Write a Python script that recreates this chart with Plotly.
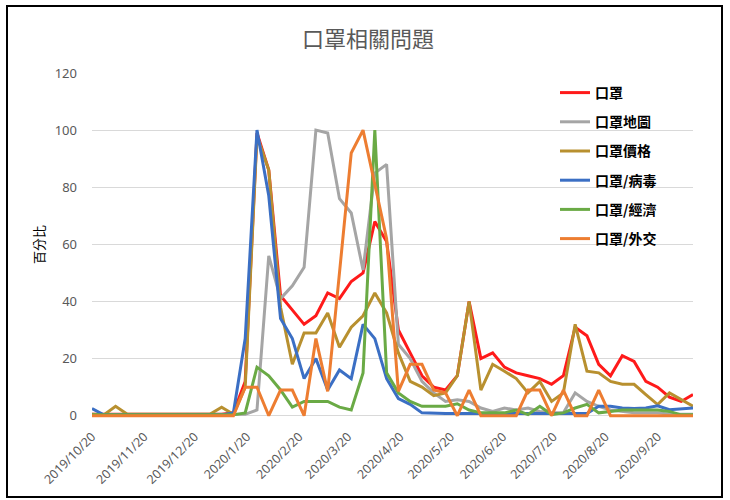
import plotly.graph_objects as go

dates = [
    "2019-10-20", "2019-10-27", "2019-11-03", "2019-11-10", "2019-11-17", "2019-11-24",
    "2019-12-01", "2019-12-08", "2019-12-15", "2019-12-22", "2019-12-29",
    "2020-01-05", "2020-01-12", "2020-01-19", "2020-01-26",
    "2020-02-02", "2020-02-09", "2020-02-16", "2020-02-23",
    "2020-03-01", "2020-03-08", "2020-03-15", "2020-03-22", "2020-03-29",
    "2020-04-05", "2020-04-12", "2020-04-19", "2020-04-26",
    "2020-05-03", "2020-05-10", "2020-05-17", "2020-05-24", "2020-05-31",
    "2020-06-07", "2020-06-14", "2020-06-21", "2020-06-28",
    "2020-07-05", "2020-07-12", "2020-07-19", "2020-07-26",
    "2020-08-02", "2020-08-09", "2020-08-16", "2020-08-23", "2020-08-30",
    "2020-09-06", "2020-09-13", "2020-09-20", "2020-09-27",
    "2020-10-04", "2020-10-11",
]

mask = [0.5, 0.5, 0.5, 0.5, 0.5, 0.5, 0.5, 0.5, 0.5, 0.5, 0.5, 0.5, 1, 12, 99,
        86, 42, 37, 32, 35, 43, 41, 47, 50, 68, 61, 30, 22, 14, 10, 9, 14, 40,
        20, 22, 17, 15, 14, 13, 11, 14, 31, 28, 18, 14, 21, 19, 12, 10, 6.5, 5, 7.4]

mask_map = [0.3, 0.3, 0.3, 0.3, 0.3, 0.3, 0.3, 0.3, 0.3, 0.3, 0.3, 0.3, 0.3, 0.5, 2,
            56, 41, 45.5, 52, 100, 99, 76, 71, 51, 85, 88, 25, 20, 12, 8, 5, 5.6, 5,
            2.7, 1.5, 2.7, 2, 2.7, 1.5, 1, 1, 8, 5, 3.3, 2, 1.5, 1, 1, 1, 0.5, 0.5, 0.5]

mask_price = [0.5, 0.3, 3.3, 0.5, 0.5, 0.5, 0.5, 0.5, 0.5, 0.5, 0.5, 3, 0.5, 10, 98,
              86, 38, 18, 29, 29, 36, 24, 31, 35, 43, 36, 22, 12, 10, 7, 8, 14, 40,
              9, 18, 15.6, 13, 8, 12, 5, 8, 32, 15.6, 15, 12, 11, 11, 7.4, 3.9, 8, 5.6, 3.3]

mask_virus = [2.5, 0.3, 0.3, 0.3, 0.3, 0.3, 0.3, 0.3, 0.3, 0.3, 0.3, 0.3, 1, 27, 100,
              77, 34, 27, 13, 20, 9, 16, 13, 32, 27, 13, 6, 4, 1, 0.8, 0.8, 0.8, 0.8,
              0.8, 0.8, 0.8, 0.8, 0.8, 0.8, 0.8, 0.8, 1, 0.8, 3.3, 3.3, 2.7, 2.5, 2.7, 3.5, 2.1, 2.3, 2.7]

mask_econ = [0.3, 0.3, 0.3, 0.3, 0.3, 0.3, 0.3, 0.3, 0.3, 0.3, 0.3, 0.3, 0.3, 1, 17,
             14, 9, 3, 5, 5, 5, 3, 2, 15, 100, 15, 8, 5, 3.3, 3.3, 3.3, 4.2, 2,
             1, 1, 1, 2, 0.4, 3.3, 0.4, 1, 2.7, 4, 1, 1.5, 2, 2, 2, 2, 1.5, 0.3, 0.3]

mask_diplo = [0, 0, 0, 0, 0, 0, 0, 0, 0, 0, 0, 0, 0, 10, 10,
              0, 9, 9, 0, 27, 8.5, 50, 92, 100, 81, 62, 8.5, 18, 18, 9, 8, 0, 9,
              0, 0, 0, 0, 9, 9, 0, 9, 0, 0, 9, 0, 0, 0, 0, 0, 0, 0, 0]

series_names = ["口罩", "口罩地圖", "口罩價格", "口罩/病毒", "口罩/經濟", "口罩/外交"]
series_values = [mask, mask_map, mask_price, mask_virus, mask_econ, mask_diplo]
series_colors = ["#ff1a1a", "#a5a5a5", "#b8902f", "#3b6fc4", "#6aaa45", "#ed7d31"]

tick_dates = ["2019-10-20", "2019-11-20", "2019-12-20", "2020-01-20", "2020-02-20",
              "2020-03-20", "2020-04-20", "2020-05-20", "2020-06-20", "2020-07-20",
              "2020-08-20", "2020-09-20"]
tick_labels = ["2019/10/20", "2019/11/20", "2019/12/20", "2020/1/20", "2020/2/20",
               "2020/3/20", "2020/4/20", "2020/5/20", "2020/6/20", "2020/7/20",
               "2020/8/20", "2020/9/20"]

W, H = 730, 500
L, R, T, B = 92, 37, 73, 80
pw, ph = W - L - R, H - T - B


def px2x(px):
    return (px - L) / pw


def px2y(py):
    return (H - B - py) / ph


fig = go.Figure()
for name, vals, col in zip(series_names, series_values, series_colors):
    fig.add_trace(go.Scatter(
        x=dates, y=vals, name=name, mode="lines", legendgroup=name,
        line=dict(color=col, width=3), hoverinfo="x+y+name",
    ))

fig.update_layout(
    width=W, height=H,
    margin=dict(l=L, r=R, t=T, b=B, autoexpand=False),
    paper_bgcolor="white", plot_bgcolor="white",
    font=dict(family="Noto Sans CJK TC, Noto Sans, sans-serif", color="#595959"),
    showlegend=True,
    legend=dict(
        x=px2x(555), y=px2y(77), xanchor="left", yanchor="top",
        bgcolor="rgba(0,0,0,0)", tracegroupgap=8,
        font=dict(family="Noto Sans CJK TC", size=14, color="#000000", weight="bold"),
    ),
    xaxis=dict(
        type="date", range=["2019-10-20", "2020-10-11"],
        tickvals=tick_dates, ticktext=tick_labels, tickangle=-45,
        showgrid=False, zeroline=False, showline=False, ticks="",
        ticklabelstandoff=6,
        tickfont=dict(family="Noto Sans", size=12.5, color="#595959"),
    ),
    yaxis=dict(
        range=[-1.5, 120], tick0=0, dtick=20, showgrid=True,
        gridcolor="#d9d9d9", gridwidth=1, zeroline=False, showline=False,
        ticks="", ticklabelstandoff=14,
        tickfont=dict(family="Noto Sans", size=13, color="#595959"),
    ),
    annotations=[
        dict(text="口罩相關問題", xref="paper", yref="paper",
             x=px2x(368), y=px2y(37), xanchor="center", yanchor="middle",
             showarrow=False,
             font=dict(family="Noto Sans CJK TC", size=22, color="#595959")),
        dict(text="百分比", xref="paper", yref="paper",
             x=px2x(38), y=px2y(245), xanchor="center", yanchor="middle",
             textangle=-90, showarrow=False,
             font=dict(family="Noto Sans CJK TC", size=13, color="#000000")),
    ],
    shapes=[
        dict(type="rect", xref="paper", yref="paper",
             x0=px2x(7), x1=px2x(722), y0=px2y(497), y1=px2y(6),
             line=dict(color="#000000", width=2), fillcolor="rgba(0,0,0,0)"),
    ],
)

fig.write_html(
    "out.html",
    config={"displayModeBar": False},
    post_script="document.body.style.margin='0px';document.body.style.overflow='hidden';",
)
